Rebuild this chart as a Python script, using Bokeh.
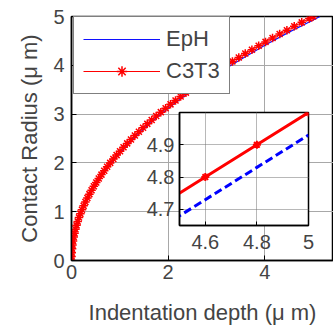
from bokeh.plotting import figure
from bokeh.models import Range1d, FixedTicker, PrintfTickFormatter, Legend, LegendItem
from bokeh.embed import file_html
from bokeh.resources import INLINE

FONT = "Liberation Sans"

# ---- main data (indentation depth h, contact radius a) ----
c3t3_h = [0, 0.001, 0.005, 0.012, 0.020, 0.032, 0.046, 0.063, 0.082, 0.104, 0.128,
          0.155, 0.184, 0.216, 0.251, 0.288, 0.328, 0.370, 0.415, 0.462, 0.512,
          0.564, 0.620, 0.677, 0.737, 0.800, 0.865, 0.933, 1.004, 1.076, 1.152,
          1.230, 1.311, 1.394, 1.480, 1.568, 1.659, 1.752, 1.848, 1.947, 2.048,
          2.152, 2.258, 2.367, 2.478, 2.592, 2.708, 2.828, 2.949, 3.073, 3.200,
          3.329, 3.461, 3.595, 3.732, 3.872, 4.014, 4.159, 4.306, 4.456, 4.608,
          4.763, 4.920, 5.000]
c3t3_a = [0, 0.08, 0.16, 0.24, 0.32, 0.40, 0.48, 0.56, 0.64, 0.72, 0.80,
          0.88, 0.96, 1.04, 1.12, 1.20, 1.28, 1.36, 1.44, 1.52, 1.60,
          1.68, 1.76, 1.84, 1.92, 2.00, 2.08, 2.16, 2.24, 2.32, 2.40,
          2.48, 2.56, 2.64, 2.72, 2.80, 2.88, 2.96, 3.04, 3.12, 3.20,
          3.28, 3.36, 3.44, 3.52, 3.60, 3.68, 3.76, 3.84, 3.92, 4.00,
          4.08, 4.16, 4.24, 4.32, 4.40, 4.48, 4.56, 4.64, 4.72, 4.80,
          4.88, 4.96, 5.00]
eph_h = [0, 0.005, 0.02, 0.05, 0.1, 0.2, 0.35, 0.5, 0.75, 1.0, 1.25, 1.5, 1.75,
         2.0, 2.5, 3.0, 3.5, 4.0, 4.5, 5.0, 5.14]
eph_a = [0, 0.156, 0.31, 0.49, 0.70, 0.99, 1.30, 1.56, 1.91, 2.20, 2.46, 2.70, 2.92,
         3.12, 3.49, 3.82, 4.12, 4.41, 4.68, 4.93, 5.0]

# ---- inset data ----
inset_h = [4.4, 4.6, 4.8, 5.0]
inset_c3t3 = [4.7, 4.8, 4.9, 5.0]
inset_eph = [4.63, 4.73, 4.83, 4.93]

x_ticks = [0, 2, 4]
y_ticks = [0, 1, 2, 3, 4, 5]
inset_x_ticks = [4.6, 4.8, 5.0]
inset_y_ticks = [4.7, 4.8, 4.9]

p = figure(width=333, height=327, x_range=Range1d(0, 5.42), y_range=Range1d(0, 5),
           output_backend="svg", toolbar_location=None,
           min_border_left=71, min_border_right=0, min_border_top=16, min_border_bottom=67,
           background_fill_color="white", border_fill_color="white",
           outline_line_color="black", outline_line_width=1.5)

l_eph = p.line(eph_h, eph_a, line_color="#1010ff", line_width=1.2)
l_c3 = p.line(c3t3_h, c3t3_a, line_color="red", line_width=1)
s_c3 = p.scatter(c3t3_h, c3t3_a, marker="asterisk", size=8.5, line_color="red", line_width=1.5)

p.xaxis.ticker = FixedTicker(ticks=x_ticks)
p.yaxis.ticker = FixedTicker(ticks=y_ticks)
for ax in (p.xaxis, p.yaxis):
    ax.axis_line_width = 1.5
    ax.major_tick_in = 5
    ax.major_tick_out = 0
    ax.minor_tick_line_color = None
    ax.major_label_text_font = FONT
    ax.major_label_text_font_size = "20px"
    ax.axis_label_text_font = FONT
    ax.axis_label_text_font_size = "22px"
    ax.axis_label_text_font_style = "normal"
p.xaxis.major_label_standoff = 4
p.yaxis.major_label_standoff = 7
p.xaxis.axis_label = "Indentation depth (μ m)"
p.yaxis.axis_label = "Contact Radius (μ m)"
p.xaxis.axis_label_standoff = 18
p.yaxis.axis_label_standoff = 8
p.grid.grid_line_color = "#a8a8a8"
p.grid.grid_line_width = 1

legend = Legend(items=[LegendItem(label="EpH", renderers=[l_eph]),
                       LegendItem(label="C3T3", renderers=[l_c3, s_c3])],
                location=(2, 166), orientation="vertical")
legend.border_line_color = "black"
legend.border_line_width = 1
legend.background_fill_color = "white"
legend.background_fill_alpha = 1
legend.label_text_font = FONT
legend.label_text_font_size = "22px"
legend.glyph_width = 77
legend.glyph_height = 26
legend.label_height = 26
legend.label_standoff = 6
legend.spacing = 6
legend.padding = 9
legend.margin = 0
p.add_layout(legend, "center")

# ---- inset (separate root, absolutely positioned over the main plot) ----
inset = figure(width=181, height=145, x_range=Range1d(4.5, 5.0), y_range=Range1d(4.65, 5.0),
               output_backend="svg", toolbar_location=None,
               min_border_left=40, min_border_right=12, min_border_top=2, min_border_bottom=30,
               background_fill_color="white", border_fill_color=None, border_fill_alpha=0,
               outline_line_color="black", outline_line_width=1.5)
inset.styles = {"position": "absolute", "left": "139px", "top": "110px"}
inset.line(inset_h, inset_c3t3, line_color="red", line_width=3)
inset.scatter(inset_h, inset_c3t3, marker="asterisk", size=8, line_color="red", line_width=2)
inset.line(inset_h, inset_eph, line_color="blue", line_width=3, line_dash="8 4")
inset.xaxis.ticker = FixedTicker(ticks=inset_x_ticks)
inset.yaxis.ticker = FixedTicker(ticks=inset_y_ticks)
inset.xaxis.formatter = PrintfTickFormatter(format="%g")
inset.yaxis.formatter = PrintfTickFormatter(format="%g")
for ax in (inset.xaxis, inset.yaxis):
    ax.axis_line_width = 1.5
    ax.major_tick_in = 4
    ax.major_tick_out = 0
    ax.minor_tick_line_color = None
    ax.major_label_text_font = FONT
    ax.major_label_text_font_size = "20px"
inset.xaxis.major_label_standoff = 9
inset.yaxis.major_label_standoff = 5
inset.grid.grid_line_color = "#707070"
inset.grid.grid_line_dash = "1 1"

open("out.html", "w").write(file_html([p, inset], INLINE))
